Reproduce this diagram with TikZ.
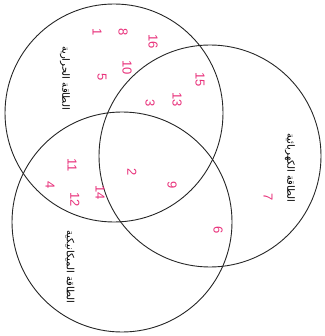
\documentclass[tikz,border=0pt]{standalone}
\usepackage{fontspec}
\setmainfont{Liberation Sans}
\newfontfamily\arabicfont[Script=Arabic]{DejaVu Sans}
\TeXXeTstate=1
\definecolor{numpink}{HTML}{E8307A}
\tikzset{
  venn/.style={draw=black!85, line width=0.9pt, circle, inner sep=0pt},
  num/.style={text=numpink, rotate=-90, font=\fontsize{13}{13}\selectfont, inner sep=0pt},
  energy/.style={rotate=-90, font=\arabicfont\fontsize{10}{10}\selectfont, inner sep=0pt}
}
\begin{document}
\begin{tikzpicture}[x=1pt,y=-1pt]
    \useasboundingbox (0,0) rectangle (324,336);
    % circles
    \node[venn, minimum size=218pt] (thermal) at (114,113) {};
    \node[venn, minimum size=222pt] (electric) at (210,156) {};
    \node[venn, minimum size=220pt] (mechanic) at (122,222) {};
    % lecter
    \node[energy] (thermallbl) at (65,78) {\beginR الطاقة الحرارية\endR};
    \node[energy] (electriclbl) at (290,168) {\beginR الطاقة الكهربائية\endR};
    \node[energy] (mechaniclbl) at (70,267) {\beginR الطاقة الميكانيكية\endR};
    % numbers
    \node[num] (n1) at (97,32) {1};\node[num] (n8) at (123,32) {8};\node[num] (n16) at (153,42) {16};
    \node[num] (n5) at (102,77) {5};\node[num] (n10) at (127,68) {10};\node[num] (n15) at (200,80) {15};
    \node[num] (n3) at (150,103) {3};\node[num] (n13) at (177,100) {13};
    \node[num] (n11) at (72,165) {11};\node[num] (n2) at (132,172) {2};\node[num] (n9) at (172,185) {9};
    \node[num] (n4) at (50,185) {4};\node[num] (n12) at (75,200) {12};\node[num] (n14) at (100,193) {14};
    \node[num] (n7) at (268,197) {7};\node[num] (n6) at (218,230) {6};
\end{tikzpicture}
\end{document}
